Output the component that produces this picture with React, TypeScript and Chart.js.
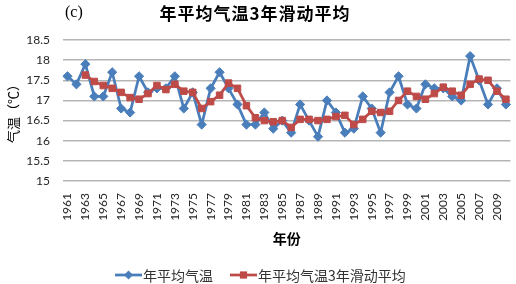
import React, { useEffect, useRef } from 'react';
import { Chart, registerables } from 'chart.js';

Chart.register(...registerables);

const years = [
  '1961', '1962', '1963', '1964', '1965', '1966', '1967', '1968', '1969', '1970',
  '1971', '1972', '1973', '1974', '1975', '1976', '1977', '1978', '1979', '1980',
  '1981', '1982', '1983', '1984', '1985', '1986', '1987', '1988', '1989', '1990',
  '1991', '1992', '1993', '1994', '1995', '1996', '1997', '1998', '1999', '2000',
  '2001', '2002', '2003', '2004', '2005', '2006', '2007', '2008', '2009', '2010',
];

const annualMean = [
  17.6, 17.4, 17.9, 17.1, 17.1, 17.7, 16.8, 16.7, 17.6, 17.2,
  17.3, 17.3, 17.6, 16.8, 17.2, 16.4, 17.3, 17.7, 17.3, 16.9,
  16.4, 16.4, 16.7, 16.3, 16.5, 16.2, 16.9, 16.5, 16.1, 17.0,
  16.7, 16.2, 16.3, 17.1, 16.8, 16.2, 17.2, 17.6, 16.9, 16.8,
  17.4, 17.3, 17.3, 17.1, 17.0, 18.1, 17.5, 16.9, 17.3, 16.9,
];

const movingAvg3 = [
  null, null, 17.63, 17.47, 17.37, 17.3, 17.2, 17.07, 17.03, 17.17,
  17.37, 17.27, 17.4, 17.23, 17.2, 16.8, 16.97, 17.13, 17.43, 17.3,
  16.87, 16.57, 16.5, 16.47, 16.5, 16.33, 16.53, 16.53, 16.5, 16.53,
  16.6, 16.63, 16.4, 16.53, 16.73, 16.7, 16.73, 17.0, 17.23, 17.1,
  17.03, 17.17, 17.33, 17.23, 17.13, 17.4, 17.53, 17.5, 17.23, 17.03,
];

const yTickLabels = ['15', '15.5', '16', '16.5', '17', '17.5', '18', '18.5'];

const seriesNames = ['年平均气温', '年平均气温3年滑动平均'];
const chartTitle = '年平均气温3年滑动平均';
const panelLabel = '(c)';
const xAxisTitle = '年份';
const yAxisTitle = '气温（℃）';
const yMin = 15;
const yMax = 18.5;
const yStep = 0.5;

const BLUE = '#4a7ebb';
const RED = '#be4b48';
const CJK = '"Noto Sans CJK SC", "Noto Sans", sans-serif';
const LATIN = 'Lato, "Open Sans", sans-serif';

function drawMarker(ctx: CanvasRenderingContext2D, kind: string, x: number, y: number, color: string) {
  ctx.fillStyle = color;
  ctx.beginPath();
  if (kind === 'diamond') {
    const r = 4.5;
    ctx.moveTo(x, y - r);
    ctx.lineTo(x + r, y);
    ctx.lineTo(x, y + r);
    ctx.lineTo(x - r, y);
    ctx.closePath();
  } else {
    const h = 3.6;
    ctx.rect(x - h, y - h, 2 * h, 2 * h);
  }
  ctx.fill();
}

const decorPlugin = {
  id: 'decor',
  afterDraw(chart: any) {
    const ctx: CanvasRenderingContext2D = chart.ctx;
    ctx.save();
    ctx.textBaseline = 'middle';
    ctx.fillStyle = '#000';
    ctx.textAlign = 'left';
    ctx.font = '16px "Liberation Serif", serif';
    ctx.fillText(panelLabel, 65, 13);

    ctx.textAlign = 'center';
    ctx.font = `bold 17px ${CJK}`;
    (ctx as any).letterSpacing = '1px';
    ctx.fillText(chartTitle, 255, 14);
    (ctx as any).letterSpacing = '0px';

    const items = [
      { x: 115, color: BLUE, kind: 'diamond', label: seriesNames[0] },
      { x: 230, color: RED, kind: 'square', label: seriesNames[1] },
    ];
    const ly = 275;
    ctx.font = `14px ${CJK}`;
    ctx.textAlign = 'left';
    for (const it of items) {
      ctx.strokeStyle = it.color;
      ctx.lineWidth = 2.75;
      ctx.beginPath();
      ctx.moveTo(it.x, ly);
      ctx.lineTo(it.x + 27, ly);
      ctx.stroke();
      drawMarker(ctx, it.kind, it.x + 13.5, ly, it.color);
      ctx.fillStyle = '#333';
      ctx.fillText(it.label, it.x + 28, ly + 0.5);
    }
    ctx.restore();
  },
};

export default function App() {
  const canvasRef = useRef<HTMLCanvasElement | null>(null);

  useEffect(() => {
    const canvas = canvasRef.current;
    if (!canvas) return;
    const chart = new Chart(canvas, {
      type: 'line',
      data: {
        labels: years,
        datasets: [
          {
            label: seriesNames[0],
            data: annualMean,
            borderColor: BLUE,
            backgroundColor: BLUE,
            borderWidth: 2.75,
            pointStyle: 'rectRot',
            pointRadius: 4.6,
            pointBorderWidth: 1,
            pointBorderColor: BLUE,
            pointBackgroundColor: BLUE,
            borderJoinStyle: 'round',
            borderCapStyle: 'round',
            tension: 0,
            order: 1,
          },
          {
            label: seriesNames[1],
            data: movingAvg3,
            borderColor: RED,
            backgroundColor: RED,
            borderWidth: 2.75,
            pointStyle: 'rect',
            pointRadius: 4.6,
            pointBorderWidth: 1,
            pointBorderColor: RED,
            pointBackgroundColor: RED,
            borderJoinStyle: 'round',
            borderCapStyle: 'round',
            tension: 0,
            order: 0,
          },
        ],
      },
      options: {
        responsive: false,
        animation: false,
        layout: { padding: { top: 40, left: 0, right: 5, bottom: 33 } },
        plugins: {
          legend: { display: false },
          title: { display: false },
          tooltip: { enabled: false },
        },
        scales: {
          x: {
            type: 'category',
            offset: true,
            grid: { display: false, drawTicks: false },
            border: { display: false },
            ticks: {
              autoSkip: false,
              minRotation: 90,
              maxRotation: 90,
              padding: 12,
              color: '#262626',
              font: { family: LATIN, size: 12 },
              callback: (_v: any, i: number) => (i % 2 === 0 ? years[i] : ''),
            },
            title: {
              display: true,
              text: xAxisTitle,
              color: '#000',
              font: { family: CJK, size: 14, weight: 'bold' },
              padding: { top: 0, bottom: 4 },
            },
            afterFit: (s: any) => {
              s.height = 70;
              s.paddingLeft = 0;
              s.paddingRight = 0;
            },
          },
          y: {
            min: yMin,
            max: yMax,
            grid: { color: '#b5b5b5', lineWidth: 1.4, drawTicks: false },
            border: { display: false },
            ticks: {
              stepSize: yStep,
              padding: 13,
              color: '#262626',
              font: { family: LATIN, size: 12 },
              callback: (_v: any, i: number) => yTickLabels[i] ?? '',
            },
            title: {
              display: true,
              text: yAxisTitle,
              color: '#000',
              font: { family: CJK, size: 13 },
              padding: { top: 5, bottom: 0 },
            },
            afterFit: (s: any) => {
              s.width = 63;
              s.paddingTop = 0;
              s.paddingBottom = 0;
            },
          },
        },
      } as any,
      plugins: [decorPlugin],
    });
    return () => chart.destroy();
  }, []);

  return (
    <div style={{ position: 'absolute', left: 0, top: 0, width: 516, height: 284, background: '#fff' }}>
      <canvas ref={canvasRef} width={516} height={284} style={{ display: 'block' }} />
    </div>
  );
}
